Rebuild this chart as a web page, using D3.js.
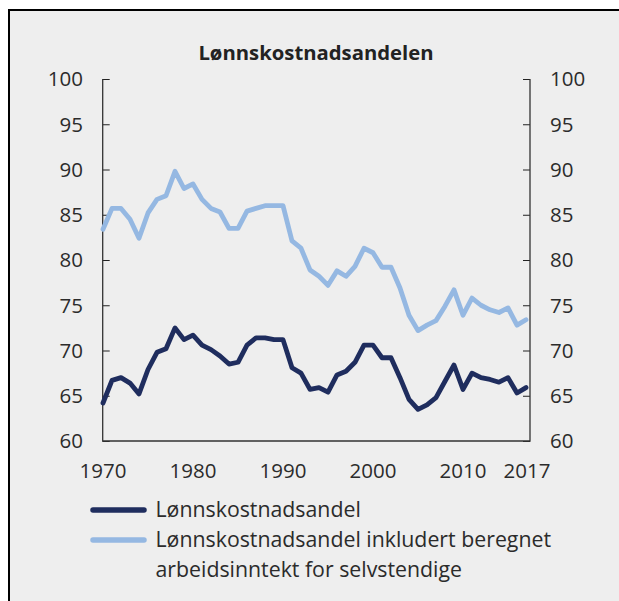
<!DOCTYPE html>
<html>
<head>
<meta charset="utf-8">
<script src="https://cdn.jsdelivr.net/npm/d3@7"></script>
<style>
  body { margin: 0; background: #fff; }
  svg { display: block; font-family: "Open Sans", "Noto Sans", sans-serif; }
</style>
</head>
<body>
<svg id="chart" width="619" height="601"></svg>
<script>
// years 1970-2017
const years = d3.range(1970, 2018);

// Lønnskostnadsandel
const wageShare = [
  64.2, 66.7, 67.0, 66.4, 65.2, 67.9, 69.8, 70.2, 72.5, 71.2,
  71.7, 70.6, 70.1, 69.4, 68.5, 68.7, 70.6, 71.4, 71.4, 71.2,
  71.2, 68.1, 67.5, 65.7, 65.9, 65.4, 67.3, 67.7, 68.7, 70.6,
  70.6, 69.2, 69.2, 67.0, 64.6, 63.5, 64.0, 64.8, 66.6, 68.4,
  65.7, 67.5, 67.0, 66.8, 66.5, 67.0, 65.3, 65.9
];

// Lønnskostnadsandel inkludert beregnet arbeidsinntekt for selvstendige
const wageShareSelf = [
  83.4, 85.7, 85.7, 84.5, 82.4, 85.2, 86.7, 87.1, 89.8, 87.9,
  88.4, 86.7, 85.7, 85.3, 83.5, 83.5, 85.4, 85.7, 86.0, 86.0,
  86.0, 82.1, 81.3, 78.9, 78.2, 77.2, 78.8, 78.2, 79.3, 81.3,
  80.8, 79.2, 79.2, 76.9, 73.9, 72.2, 72.8, 73.3, 74.9, 76.7,
  73.9, 75.8, 75.0, 74.5, 74.2, 74.7, 72.8, 73.4
];

const yTicks = [60, 65, 70, 75, 80, 85, 90, 95, 100];
const xTicks = [1970, 1980, 1990, 2000, 2010, 2017];

const seriesNames = [
  ["Lønnskostnadsandel"],
  ["Lønnskostnadsandel inkludert beregnet", "arbeidsinntekt for selvstendige"]
];
const colors = ["#1f2d5e", "#95b8e2"];

const svg = d3.select("#chart");

// panel background, border shows on left and top only
svg.append("rect")
  .attr("x", 9).attr("y", 10)
  .attr("width", 640).attr("height", 620)
  .attr("fill", "#eeeeee")
  .attr("stroke", "#000")
  .attr("stroke-width", 2);

const plotL = 102.7, plotR = 530, plotT = 79, plotB = 441;

const x = d3.scaleLinear().domain([1970, 2017]).range([103, 526]);
const y = d3.scaleLinear().domain([60, 100]).range([plotB, plotT]);

// title
svg.append("text")
  .attr("x", 316).attr("y", 60)
  .attr("text-anchor", "middle")
  .attr("font-size", 20.3)
  .attr("font-weight", "bold")
  .attr("fill", "#222")
  .text("Lønnskostnadsandelen");

// tick marks on both sides, pointing inward
const yLeft = svg.append("g")
  .attr("transform", `translate(${plotL},0)`)
  .call(d3.axisRight(y).tickValues(yTicks).tickSize(7).tickFormat(""));
yLeft.select(".domain").remove();
yLeft.selectAll("line").attr("stroke", "#222");

const yRight = svg.append("g")
  .attr("transform", `translate(${plotR},0)`)
  .call(d3.axisLeft(y).tickValues(yTicks).tickSize(7).tickFormat(""));
yRight.select(".domain").remove();
yRight.selectAll("line").attr("stroke", "#222");

// frame lines (left, bottom, right)
svg.append("path")
  .attr("d", `M${plotL},${plotT}V${plotB}H${plotR}V${plotT}`)
  .attr("fill", "none")
  .attr("stroke", "#333")
  .attr("stroke-width", 1.3);

// y labels
svg.append("g").selectAll("text")
  .data(yTicks).join("text")
  .attr("x", 83).attr("y", d => y(d))
  .attr("dy", "0.36em")
  .attr("text-anchor", "end")
  .attr("font-size", 20.5)
  .attr("fill", "#2b2b2b")
  .text(d => d);

svg.append("g").selectAll("text")
  .data(yTicks).join("text")
  .attr("x", 550).attr("y", d => y(d))
  .attr("dy", "0.36em")
  .attr("text-anchor", "start")
  .attr("font-size", 20.5)
  .attr("fill", "#2b2b2b")
  .text(d => d);

// x labels
svg.append("g").selectAll("text")
  .data(xTicks).join("text")
  .attr("x", d => x(d) + (d === 2017 ? 1 : 0))
  .attr("y", 477.5)
  .attr("text-anchor", "middle")
  .attr("font-size", 20.5)
  .attr("fill", "#2b2b2b")
  .text(d => d);

// lines
const line = d3.line()
  .x((d, i) => x(years[i]))
  .y(d => y(d));

[wageShareSelf, wageShare].forEach((s, k) => {
  svg.append("path")
    .datum(s)
    .attr("d", line)
    .attr("fill", "none")
    .attr("stroke", k === 0 ? colors[1] : colors[0])
    .attr("stroke-width", 4.8)
    .attr("stroke-linejoin", "round")
    .attr("stroke-linecap", "round");
});

// legend
const legY = [510, 540];
seriesNames.forEach((lines, i) => {
  svg.append("line")
    .attr("x1", 93).attr("x2", 144)
    .attr("y1", legY[i]).attr("y2", legY[i])
    .attr("stroke", colors[i])
    .attr("stroke-width", 5.5)
    .attr("stroke-linecap", "round");
  lines.forEach((t, j) => {
    svg.append("text")
      .attr("x", 155.5)
      .attr("y", legY[i] + 7 + j * 29.5)
      .attr("font-size", 21.3)
      .attr("fill", "#2b2b2b")
      .text(t);
  });
});
</script>
</body>
</html>
